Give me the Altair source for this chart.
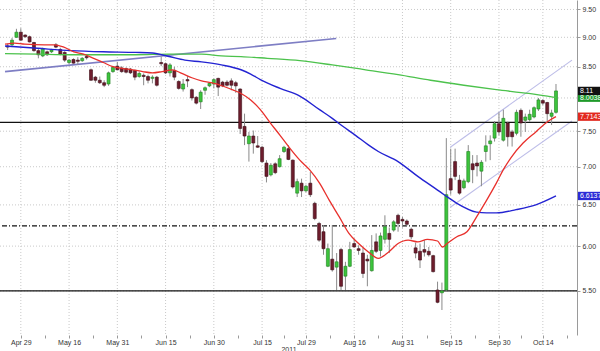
import altair as alt
import pandas as pd

# ---------------- data ----------------
candle_open = [8.85, 8.87, 9.00, 9.09, 9.04, 9.01, 8.91, 8.77, 8.68, 8.75,
               8.75, 8.87, 8.79, 8.74, 8.57, 8.62, 8.61, 8.60, 8.67, 8.45,
               8.33, 8.28, 8.24, 8.22, 8.42, 8.51, 8.48, 8.47, 8.46, 8.44,
               8.34, 8.36, 8.34, 8.31, 8.33, 8.57, 8.55, 8.40, 8.44, 8.26,
               8.14, 8.29, 8.13, 8.01, 7.94, 8.12, 8.19, 8.22, 8.31, 8.25,
               8.25, 8.27, 8.24, 8.14, 7.57, 7.32, 7.43, 7.29, 7.27, 7.05,
               6.89, 7.04, 7.00, 7.21, 7.25, 7.09, 6.65, 6.78, 6.68, 6.78,
               6.52, 6.27, 6.17, 5.77, 5.85, 5.76, 5.96, 5.66, 5.77, 6.03,
               5.97, 5.92, 5.85, 5.72, 6.05, 5.95, 6.08, 6.15, 6.19, 6.37,
               6.32, 6.30, 6.20, 5.98, 5.94, 5.96, 5.94, 5.89, 5.51, 5.48,
               5.51, 6.84, 7.07, 6.82, 6.72, 6.80, 7.04, 7.05, 6.94, 7.21,
               7.32, 7.40, 7.61, 7.37, 7.62, 7.49, 7.47, 7.81, 7.66, 7.67,
               7.71, 7.83, 7.96, 7.93, 7.72, 7.78]
candle_high = [8.89, 8.99, 9.15, 9.16, 9.05, 9.03, 8.92, 8.81, 8.82, 8.77,
               8.80, 8.90, 8.82, 8.76, 8.63, 8.64, 8.66, 8.66, 8.70, 8.47,
               8.35, 8.34, 8.28, 8.42, 8.51, 8.58, 8.51, 8.49, 8.48, 8.45,
               8.42, 8.39, 8.37, 8.36, 8.35, 8.67, 8.57, 8.56, 8.50, 8.28,
               8.30, 8.35, 8.15, 8.03, 8.12, 8.18, 8.25, 8.31, 8.32, 8.27,
               8.28, 8.31, 8.27, 8.15, 7.76, 7.49, 7.51, 7.43, 7.29, 7.09,
               7.05, 7.06, 7.16, 7.29, 7.30, 7.10, 6.84, 6.84, 6.76, 6.93,
               6.54, 6.29, 6.25, 6.03, 6.25, 5.92, 5.98, 5.82, 6.05, 6.09,
               6.01, 5.98, 5.90, 6.13, 6.15, 6.16, 6.37, 6.22, 6.31, 6.39,
               6.35, 6.32, 6.22, 6.04, 6.03, 6.07, 5.99, 5.90, 5.60, 5.59,
               7.40, 7.25, 7.25, 6.89, 6.84, 7.30, 7.16, 7.16, 7.09, 7.44,
               7.44, 7.65, 7.78, 7.82, 7.64, 7.52, 7.82, 7.84, 7.76, 7.82,
               7.87, 8.00, 7.98, 7.94, 7.82, 8.22]
candle_low = [8.78, 8.83, 8.99, 8.94, 8.99, 8.91, 8.75, 8.64, 8.66, 8.68,
              8.73, 8.81, 8.69, 8.58, 8.54, 8.55, 8.53, 8.58, 8.62, 8.27,
              8.24, 8.22, 8.17, 8.19, 8.40, 8.44, 8.40, 8.39, 8.38, 8.28,
              8.32, 8.20, 8.23, 8.23, 8.18, 8.51, 8.38, 8.34, 8.28, 8.13,
              8.10, 8.17, 7.96, 7.90, 7.83, 8.05, 8.17, 8.15, 8.03, 8.17,
              8.18, 8.12, 8.08, 7.46, 7.30, 7.07, 7.18, 7.26, 7.05, 6.79,
              6.87, 6.90, 6.99, 7.19, 7.09, 6.71, 6.60, 6.60, 6.66, 6.60,
              6.31, 6.05, 5.90, 5.76, 5.71, 5.51, 5.51, 5.51, 5.76, 5.98,
              5.90, 5.64, 5.55, 5.71, 5.92, 5.88, 6.03, 5.92, 6.17, 6.17,
              6.22, 6.24, 6.08, 5.86, 5.75, 5.88, 5.88, 5.70, 5.37, 5.30,
              5.50, 6.63, 6.82, 6.63, 6.70, 6.78, 6.78, 6.87, 6.74, 7.07,
              7.09, 7.35, 7.44, 7.35, 7.28, 7.28, 7.44, 7.42, 7.49, 7.64,
              7.69, 7.80, 7.89, 7.64, 7.59, 7.76]
candle_close = [8.83, 8.95, 9.09, 8.95, 9.01, 8.92, 8.77, 8.70, 8.80, 8.70,
                8.78, 8.83, 8.71, 8.61, 8.61, 8.56, 8.59, 8.64, 8.65, 8.28,
                8.28, 8.24, 8.20, 8.40, 8.49, 8.45, 8.42, 8.41, 8.40, 8.33,
                8.39, 8.34, 8.28, 8.33, 8.20, 8.55, 8.40, 8.53, 8.33, 8.15,
                8.22, 8.27, 8.00, 7.92, 8.09, 8.16, 8.23, 8.29, 8.17, 8.19,
                8.20, 8.20, 8.19, 7.54, 7.43, 7.43, 7.33, 7.27, 7.07, 6.87,
                7.02, 6.92, 7.11, 7.27, 7.10, 6.73, 6.80, 6.68, 6.74, 6.63,
                6.33, 6.07, 5.97, 5.97, 5.73, 5.82, 5.55, 5.77, 5.96, 5.99,
                5.95, 5.69, 5.83, 5.95, 5.94, 6.12, 6.23, 6.08, 6.29, 6.27,
                6.30, 6.26, 6.11, 5.92, 5.84, 5.93, 5.90, 5.71, 5.38, 5.50,
                6.63, 6.69, 6.87, 6.65, 6.81, 7.21, 6.96, 7.01, 7.06, 7.29,
                7.36, 7.61, 7.49, 7.69, 7.42, 7.42, 7.78, 7.62, 7.71, 7.75,
                7.85, 7.97, 7.92, 7.76, 7.77, 8.11]

# moving averages (sampled along the trading-day index)
red_idx = [-0.6, 1.6, 3.9, 8.4, 10.6, 12.8, 15.1, 17.3, 19.6, 21.8, 24.0, 26.3,
           28.5, 30.8, 33.0, 35.2, 37.5, 39.7, 42.0, 44.2, 46.4, 49.3, 51.6, 53.2,
           55.4, 57.6, 59.9, 62.1, 64.4, 66.6, 68.8, 71.1, 73.3, 75.6, 77.8, 80.0,
           82.3, 84.5, 86.8, 89.0, 91.3, 93.5, 95.7, 98.0, 99.1, 100.2, 102.4, 104.7,
           106.9, 109.2, 111.4, 113.0, 114.8, 117.5, 120.4, 123.3, 125.0]
red_val = [8.88, 8.90, 8.88, 8.87, 8.87, 8.83, 8.75, 8.71, 8.64, 8.57, 8.50, 8.47,
           8.45, 8.42, 8.40, 8.42, 8.45, 8.39, 8.32, 8.27, 8.24, 8.18, 8.12, 8.07,
           7.97, 7.82, 7.62, 7.44, 7.25, 7.09, 6.96, 6.78, 6.56, 6.35, 6.15, 6.03,
           5.93, 5.86, 5.93, 6.03, 6.07, 6.05, 6.08, 6.06, 5.99, 6.03, 6.11, 6.17,
           6.35, 6.56, 6.78, 6.96, 7.13, 7.33, 7.49, 7.65, 7.7143]
blue_idx = [-0.6, 6.8, 14.4, 21.8, 29.2, 33.0, 36.8, 40.4, 44.2, 48.7, 53.2, 55.4,
            57.6, 62.1, 66.6, 71.1, 74.0, 75.6, 79.3, 82.3, 84.5, 89.0, 93.5, 98.0,
            99.5, 102.4, 106.9, 109.2, 111.4, 115.9, 120.4, 125.0]
blue_val = [8.85, 8.81, 8.77, 8.75, 8.74, 8.73, 8.67, 8.61, 8.58, 8.53, 8.45, 8.38,
            8.29, 8.15, 8.03, 7.82, 7.69, 7.61, 7.44, 7.30, 7.21, 7.07, 6.87, 6.69,
            6.63, 6.52, 6.41, 6.40, 6.40, 6.44, 6.50, 6.6137]
green_idx = [-0.6, 6.8, 14.4, 21.8, 29.2, 36.8, 44.2, 48.7, 53.2, 59.2, 66.6, 74.0,
             81.6, 89.0, 96.4, 104.0, 111.4, 118.8, 125.0]
green_val = [8.72, 8.71, 8.70, 8.70, 8.70, 8.71, 8.71, 8.68, 8.67, 8.64, 8.60, 8.53,
             8.45, 8.37, 8.28, 8.20, 8.13, 8.07, 8.0038]

# drawn trend lines
trend_name = ["long", "long", "upper", "upper", "lower", "lower"]
trend_idx = [-0.6, 74.9, 100.9, 128.65, 100.9, 128.65]
trend_val = [8.42, 8.98, 7.27, 8.61, 6.47, 7.65]

# horizontal levels
level_val = [7.63, 6.24, 5.50]
level_kind = ["solid", "dashdot", "solid"]

# right-edge value tags
tag_val = [8.0038, 8.11, 7.7143, 6.6137]
tag_text = ["8.0038", "8.11", "7.7143", "6.6137"]
tag_color = ["#1f9a2a", "#111111", "#e2281e", "#2b2bd6"]

# axis ticks
y_ticks = [5.5, 6.0, 6.5, 7.0, 7.5, 8.0, 8.5, 9.0, 9.5]
date_idx = [3, 14, 25, 36, 47, 58, 68, 79, 90, 101, 112, 122]
date_lab = ["Apr 29", "May 16", "May 31", "Jun 15", "Jun 30", "Jul 15",
            "Jul 29", "Aug 16", "Aug 31", "Sep 15", "Sep 30", "Oct 14"]
minor_idx = [8.5, 19.5, 30.5, 41.5, 52.5, 63, 73.5, 84.5, 95.5, 106.5, 117, 127.5]

# ---------------- tables ----------------
n = len(candle_open)
candles = pd.DataFrame({"i": list(range(n)), "o": candle_open, "h": candle_high,
                        "l": candle_low, "c": candle_close})
candles["up"] = [c >= o for o, c in zip(candle_open, candle_close)]

red_df = pd.DataFrame({"i": red_idx, "v": red_val})
blue_df = pd.DataFrame({"i": blue_idx, "v": blue_val})
green_df = pd.DataFrame({"i": green_idx, "v": green_val})
trends = pd.DataFrame({"i": trend_idx, "v": trend_val, "t": trend_name})
levels = pd.DataFrame({"v": level_val, "k": level_kind})
tags = pd.DataFrame({"v": tag_val, "txt": tag_text, "col": tag_color})
grid_x = pd.DataFrame({"i": date_idx})
grid_y = pd.DataFrame({"v": y_ticks})

FONT = "Liberation Sans"
xs = alt.Scale(domain=[-0.605, 128.65], nice=False, zero=False)
ys = alt.Scale(type="log", domain=[5.049, 9.676], nice=False, zero=False)

all_ticks = sorted(date_idx + minor_idx)
label_expr = ("indexof(%s, datum.value) >= 0 ? %s[indexof(%s, datum.value)] : ''"
              % (str(date_idx), str(date_lab), str(date_idx)))
x_axis = alt.Axis(values=all_ticks, labelExpr=label_expr, grid=False, domain=False,
                  tickSize=3, tickColor="#9a9a9a", labelFont=FONT, labelFontSize=7,
                  labelColor="#333333", labelPadding=0, labelFlush=False,
                  labelOverlap=False, title="2011", titleFont=FONT, titleFontSize=7,
                  titleFontWeight="normal", titleColor="#333333", titlePadding=0)
y_axis = alt.Axis(orient="right", values=y_ticks, format=".2f", grid=False,
                  domain=True, domainColor="#9a9a9a", tickSize=3, tickColor="#9a9a9a",
                  labelFont=FONT, labelFontSize=7, labelColor="#333333",
                  labelPadding=2, labelOverlap=False, labelFlush=False, title=None)


def X(f):
    return alt.X(f, type="quantitative", scale=xs, axis=x_axis)


def Y(f):
    return alt.Y(f, type="quantitative", scale=ys, axis=y_axis)


gx = alt.Chart(grid_x).mark_rule(color="#c9c9c9", strokeDash=[1, 2], strokeWidth=1).encode(x=X("i"))
gy = alt.Chart(grid_y).mark_rule(color="#c9c9c9", strokeDash=[1, 2], strokeWidth=1).encode(y=Y("v"))

lv_solid = alt.Chart(levels).transform_filter("datum.k == 'solid'").mark_rule(
    color="#111111", strokeWidth=1.3).encode(y=Y("v"))
lv_dash = alt.Chart(levels).transform_filter("datum.k == 'dashdot'").mark_rule(
    color="#111111", strokeWidth=1.1, strokeDash=[5, 2, 1, 2]).encode(y=Y("v"))

trend_long = alt.Chart(trends).transform_filter("datum.t == 'long'").mark_line(
    color="#7e7ec4", strokeWidth=1.6).encode(x=X("i"), y=Y("v"))
trend_chan = alt.Chart(trends).transform_filter("datum.t != 'long'").mark_line(
    color="#bdbde8", strokeWidth=1.1).encode(x=X("i"), y=Y("v"), detail="t:N")

wicks = alt.Chart(candles).mark_rule(color="#8a8a8a", strokeWidth=1).encode(
    x=X("i"), y=Y("l"), y2="h")
bodies_up = alt.Chart(candles).transform_filter("datum.up").mark_bar(
    size=3, strokeWidth=0.6, color="#3dc43d", stroke="#1f7f1f").encode(
    x=X("i"), y=Y("o"), y2="c")
bodies_dn = alt.Chart(candles).transform_filter("!datum.up").mark_bar(
    size=3, strokeWidth=0.6, color="#6e1d2d", stroke="#3d0b16").encode(
    x=X("i"), y=Y("o"), y2="c")

ma_green = alt.Chart(green_df).mark_line(interpolate="monotone", strokeWidth=1.3,
                                         color="#4cc24c").encode(x=X("i"), y=Y("v"))
ma_blue = alt.Chart(blue_df).mark_line(interpolate="monotone", strokeWidth=1.4,
                                       color="#2323d2").encode(x=X("i"), y=Y("v"))
ma_red = alt.Chart(red_df).mark_line(interpolate="monotone", strokeWidth=1.3,
                                     color="#e8302c").encode(x=X("i"), y=Y("v"))

tag_box = alt.Chart(tags).mark_point(
    shape="M-1,-0.32L1,-0.32L1,0.32L-1,0.32Z", filled=True, size=676, opacity=1, strokeWidth=0
).encode(x=alt.value(591), y=Y("v"), color=alt.Color("col:N", scale=None))
tag_txt = alt.Chart(tags).mark_text(align="left", baseline="middle", font=FONT,
                                    fontSize=7, color="white").encode(
    x=alt.value(580), y=Y("v"), text="txt:N")

chart = alt.layer(gx, gy, trend_long, trend_chan, lv_solid, lv_dash, wicks,
                  bodies_up, bodies_dn, ma_green, ma_blue, ma_red,
                  tag_box, tag_txt).properties(
    width=577, height=335,
    autosize=alt.AutoSizeParams(type="none"),
    padding={"left": 0, "top": 0, "right": 23, "bottom": 16},
    background="white",
).configure_view(stroke=None)

chart.save("out.html", embed_options={"renderer": "svg", "actions": False})
